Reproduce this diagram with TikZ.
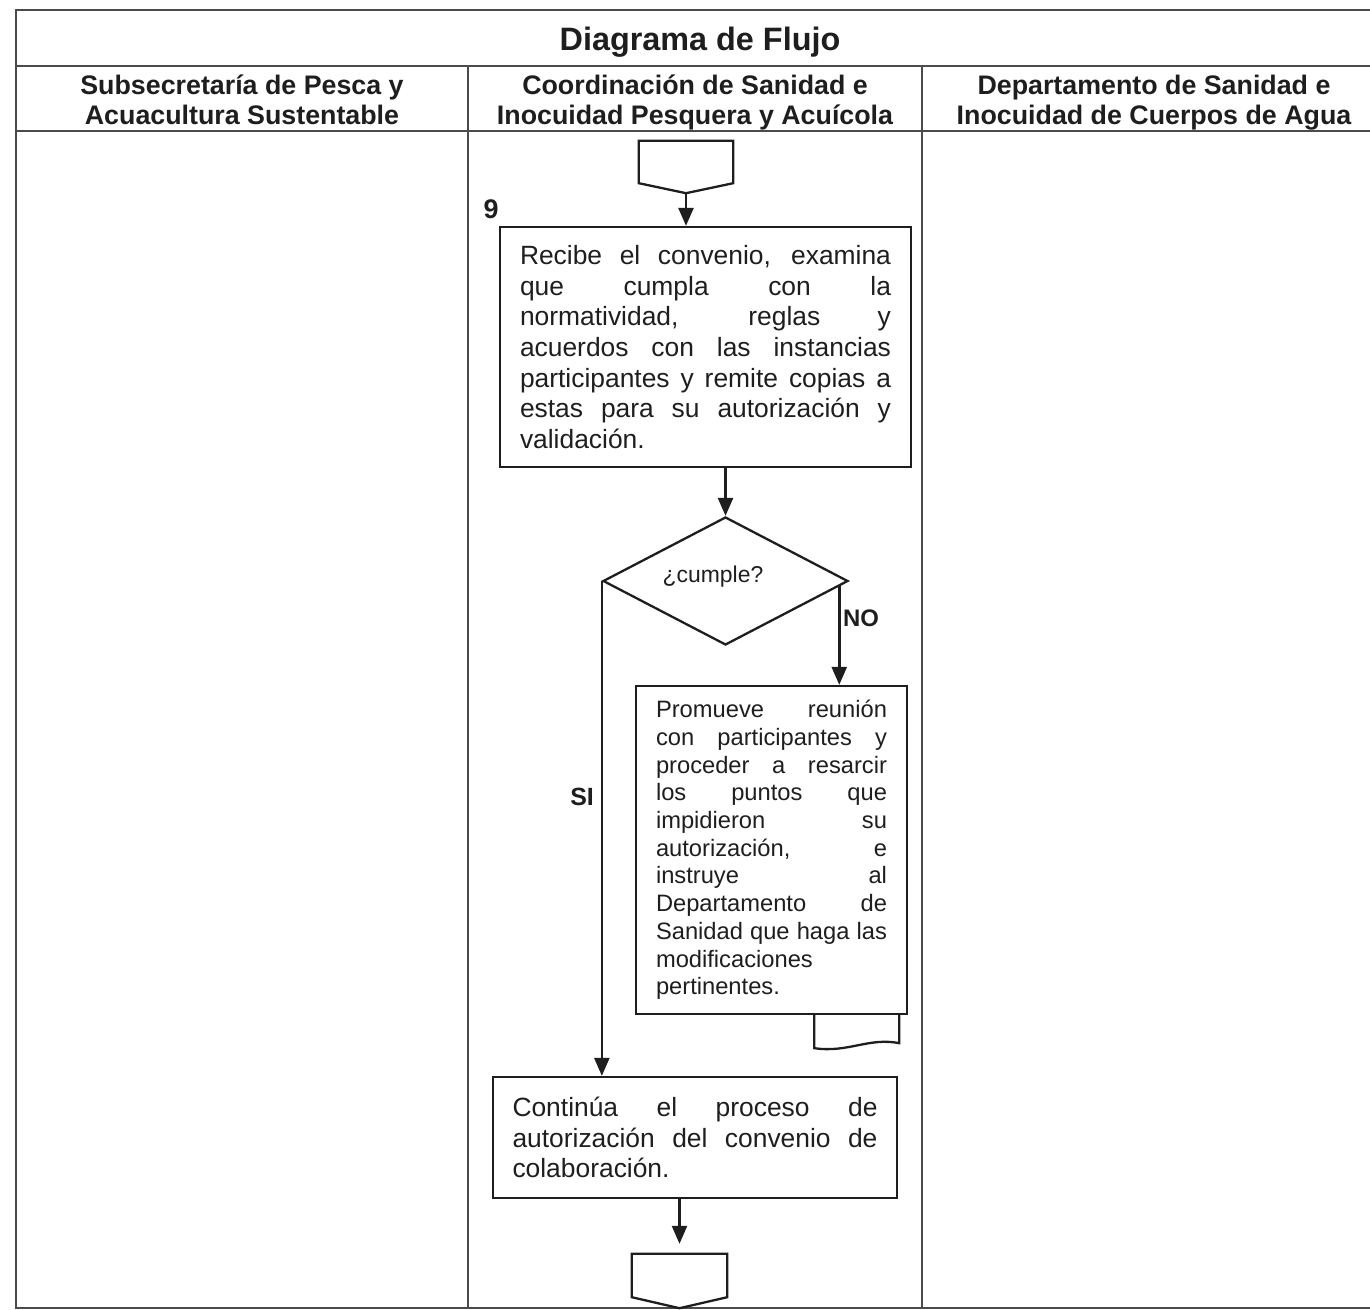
\documentclass[tikz,border=0pt]{standalone}
\usepackage{fontspec}
\setmainfont{Liberation Sans}
\usetikzlibrary{arrows.meta,shapes.geometric,calc}
\definecolor{ink}{RGB}{30,30,30}
\definecolor{rulecol}{RGB}{75,75,75}
\newcommand\jl[2]{\hbox to #1bp{\spaceskip=0pt\xspaceskip=0pt #2}}
\begin{document}
\begin{tikzpicture}[x=1bp,y=-1bp,
  every node/.style={text=ink},
  tbl/.style={draw=rulecol,line width=2bp},
  flow/.style={draw=ink,line width=2.3bp},
  arr/.style={draw=ink,line width=2.5bp,-{Triangle[width=15bp,length=18bp]}},
  hdr/.style={font=\bfseries\fontsize{26.9}{30}\selectfont,align=center,inner sep=0,anchor=north},
  procbox/.style={draw=ink,line width=2.3bp,align=justify,inner ysep=0,font=\fontsize{26.5}{30.7}\selectfont},
  smallbox/.style={draw=ink,line width=2.3bp,align=justify,inner ysep=0,font=\fontsize{23.8}{27.8}\selectfont},
  lbl/.style={font=\bfseries\fontsize{24}{28}\selectfont,inner sep=0}
]
\useasboundingbox (0,0) rectangle (1370,1310);
% table frame
\draw[tbl] (1372,10) -- (16,10) -- (16,1308) -- (1372,1308);
\draw[tbl] (16,66) -- (1372,66);
\draw[tbl] (16,131) -- (1372,131);
\draw[tbl] (468,66) -- (468,1308);
\draw[tbl] (922,66) -- (922,1308);
% headers
\node[font=\bfseries\fontsize{32.5}{38}\selectfont] (title) at (700,42) {Diagrama de Flujo};
\node[hdr] (h1) at (242,75) {Subsecretaría de Pesca y\\Acuacultura Sustentable};
\node[hdr] (h2) at (695,75) {Coordinación de Sanidad e\\Inocuidad Pesquera y Acuícola};
\node[hdr] (h3) at (1154,75) {Departamento de Sanidad e\\Inocuidad de Cuerpos de Agua};
% start connector
\node[minimum width=94bp,minimum height=52bp,inner sep=0] (c1) at (686,167) {};
\draw[flow] (c1.north west) -- (c1.north east) -- ($(c1.south east)+(0,-10)$) -- (c1.south) -- ($(c1.south west)+(0,-10)$) -- cycle;
\node[lbl,font=\bfseries\fontsize{27}{30}\selectfont] (n9) at (491,209) {9};
% box 1
\node[procbox,text width=371bp,inner xsep=20bp,minimum width=411bp,minimum height=240bp] (b1) at (705.5,347) {%
\jl{371}{Recibe el convenio, examina}\\
\jl{371}{que cumpla con la}\\
\jl{371}{normatividad, reglas y}\\
\jl{371}{acuerdos con las instancias}\\
\jl{371}{participantes y remite copias a}\\
\jl{371}{estas para su autorización y}\\
validación.};
% decision
\node[diamond,draw=ink,line width=2.3bp,minimum width=245bp,minimum height=128bp,inner sep=0] (d) at (725.5,581) {};
\node[font=\fontsize{23}{27}\selectfont,inner sep=0] (q) at (713,577) {¿cumple?};
% box 2
\node[smallbox,text width=231bp,inner xsep=20bp,minimum width=271bp,minimum height=328bp] (b2) at (771.5,850) {%
\jl{231}{Promueve reunión}\\
\jl{231}{con participantes y}\\
\jl{231}{proceder a resarcir}\\
\jl{231}{los puntos que}\\
\jl{231}{impidieron su}\\
\jl{231}{autorización, e}\\
\jl{231}{instruye al}\\
\jl{231}{Departamento de}\\
\jl{231}{Sanidad que haga las}\\
modificaciones\\
pertinentes.};
\draw[flow] ($(b2.south east)+(-94,0)$) -- ($(b2.south east)+(-94,33)$) .. controls ($(b2.south east)+(-60,38)$) and ($(b2.south east)+(-40,22)$) .. ($(b2.south east)+(-9,28)$) -- ($(b2.south east)+(-9,0)$);
% box 3
\node[procbox,text width=365bp,inner xsep=19.5bp,minimum width=404bp,minimum height=121bp] (b3) at (695,1137.5) {%
\jl{365}{Continúa el proceso de}\\
\jl{365}{autorización del convenio de}\\
colaboración.};
% end connector
\node[minimum width=95bp,minimum height=54bp,inner sep=0] (c2) at (679.5,1281) {};
\draw[flow] (c2.north west) -- (c2.north east) -- ($(c2.south east)+(0,-11)$) -- (c2.south) -- ($(c2.south west)+(0,-11)$) -- cycle;
% connectors
\draw[arr] (c1.south) -- (c1.south |- b1.north);
\draw[arr] (b1.south -| d.north) -- (d.north);
\coordinate (nostart) at ($(d.east)!0.08!(d.south)$);
\draw[arr] (nostart) -- (nostart |- b2.north);
\node[lbl,anchor=west] (no) at (843,618) {NO};
\draw[arr] (d.west) -- (d.west |- b3.north);
\node[lbl,anchor=east,font=\bfseries\fontsize{25}{28}\selectfont] (si) at (594,797) {SI};
\draw[arr,shorten >=10bp] (b3.south -| c2.north) -- (c2.north);
\end{tikzpicture}
\end{document}
